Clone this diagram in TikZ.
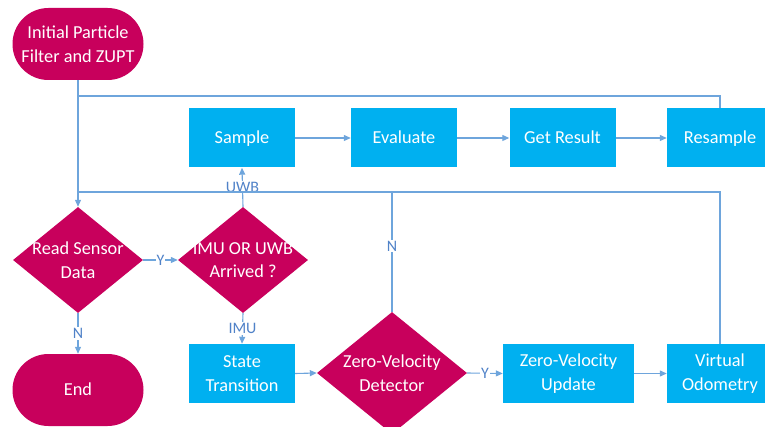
\documentclass[tikz,border=0pt]{standalone}
\usepackage{fontspec}
\setmainfont{Carlito}
\usetikzlibrary{shapes.geometric,arrows.meta}
\definecolor{mag}{RGB}{200,0,92}
\definecolor{bbox}{RGB}{0,176,240}
\definecolor{ln}{RGB}{110,165,220}
\definecolor{lbl}{RGB}{80,130,200}
\tikzset{
  term/.style={fill=mag, text=white, align=center, minimum width=131pt, minimum height=72pt, rounded corners=35.9pt, inner sep=0pt, font=\fontsize{18.3}{23.5}\selectfont},
  proc/.style={fill=bbox, text=white, align=center, minimum width=106pt, minimum height=59pt, inner sep=0pt, font=\fontsize{18.3}{23.5}\selectfont},
  oneline/.style={text height=11.8pt, text depth=0pt},
  dec/.style={diamond, fill=mag, minimum width=130pt, minimum height=106pt, inner sep=0pt},
  dectext/.style={text=white, align=center, font=\fontsize{18.3}{23.5}\selectfont},
  conn/.style={draw=ln, line width=1.1pt},
  arr/.style={conn, -{Triangle[length=7pt,width=6pt]}},
  lab/.style={fill=white, text=lbl, inner sep=1pt, font=\fontsize{16}{16}\selectfont}
}
\begin{document}
\begin{tikzpicture}[x=1pt,y=-1pt]
\useasboundingbox (0,0) rectangle (765,427);
\clip (0,0) rectangle (765,427);
% nodes
\node[term] (init) at (78,44) {Initial Particle\\Filter and ZUPT};
\node[proc, oneline] (sample) at (242,138) {Sample};
\node[proc, oneline] (eval) at (404,138) {Evaluate};
\node[proc, oneline] (get) at (562.5,138) {Get Result};
\node[proc, oneline] (resam) at (720,138) {Resample};
\node[dec, label={[dectext]center:Read Sensor\\Data}] (read) at (78,260) {};
\node[dec, label={[dectext]center:IMU OR UWB\\Arrived ?}] (imu) at (243,260) {};
\node[term, oneline] (end) at (78,390) {End};
\node[proc] (state) at (242,373.5) {State\\Transition};
\node[dec, minimum width=150pt, minimum height=122pt, label={[dectext]center:Zero-Velocity\\Detector}] (zvd) at (392,373) {};
\node[proc, minimum width=131pt] (zvu) at (568.5,373.5) {Zero-Velocity\\Update};
\node[proc] (vo) at (720,373.5) {Virtual\\Odometry};
% junctions
\coordinate (t1) at (78,96);
\coordinate (t2) at (720,96);
\coordinate (b1) at (78,192);
\coordinate (b2) at (720,192);
\coordinate (b3) at (392,192);
% connectors
\draw[arr] (init.south) -- (read.north);
\draw[conn] (resam.north) -- (t2) -- (t1);
\draw[arr] (sample) -- (eval);
\draw[arr] (eval) -- (get);
\draw[arr] (get) -- (resam);
\draw[arr] (imu.north) -- node[lab, pos=0.5]{UWB} (sample.south);
\draw[conn] (vo.north) -- (b2) -- (b1);
\draw[conn] (zvd.north) -- node[lab, pos=0.55]{N} (b3);
\draw[arr] (read.east) -- node[lab]{Y} (imu.west);
\draw[arr] (read.south) -- node[lab]{N} (end.north);
\draw[arr] (imu.south) -- node[lab]{IMU} (state.north);
\draw[arr] (state.east) -- (zvd.west);
\draw[arr] (zvd.east) -- node[lab]{Y} (zvu.west);
\draw[arr] (zvu.east) -- (vo.west);
\end{tikzpicture}
\end{document}
